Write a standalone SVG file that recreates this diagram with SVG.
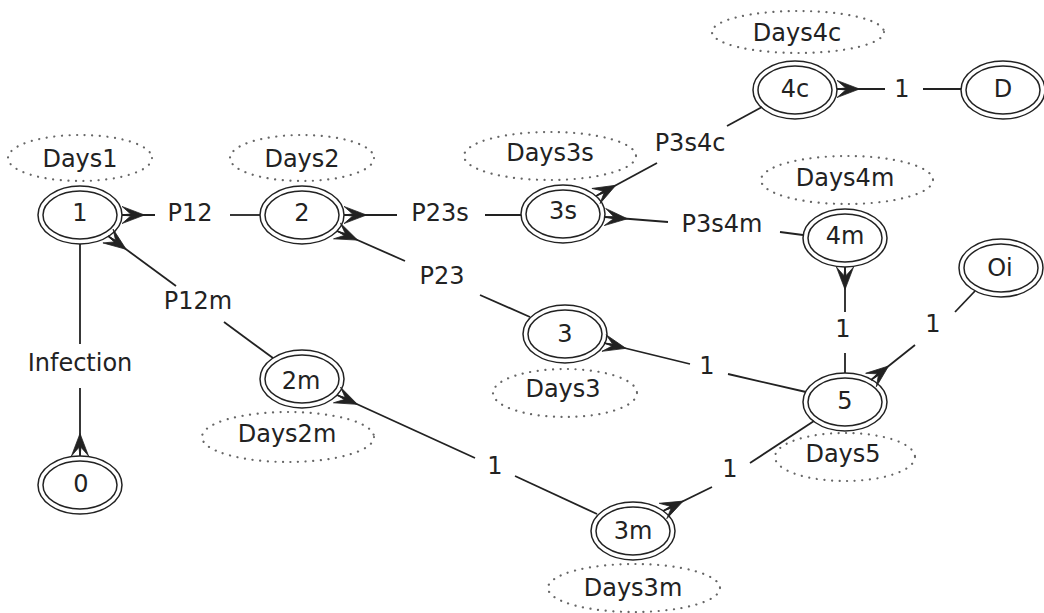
<svg xmlns="http://www.w3.org/2000/svg" width="1044" height="613" viewBox="0 0 1044 613">
<style>
.bg{fill:#fff}
.o{fill:none;stroke:#222;stroke-width:1.5}
.d{fill:none;stroke:#666;stroke-width:2.2;stroke-dasharray:0.1 7.5;stroke-linecap:round}
.t{font-family:"DejaVu Sans","Liberation Sans",sans-serif;font-size:24px;fill:#222;text-anchor:middle}
.e{fill:none;stroke:#222;stroke-width:1.8}
</style>
<defs>
<marker id="crow" markerUnits="userSpaceOnUse" markerWidth="30" markerHeight="30" viewBox="-26 -12 28 24" refX="0" refY="0" orient="auto">
<polygon points="-21,0 0,-8 -8,-1 0,0 -8,1 0,8" fill="#222" stroke="#222" stroke-width="0.7" stroke-linejoin="round"/>
</marker>
</defs>
<rect class="bg" x="0" y="0" width="1044" height="613"/>
<g id="connectors">
<path class="e" d="M155,215 L122,215" marker-end="url(#crow)"/>
<path class="e" d="M230,215 L260,215"/>
<path class="e" d="M176,286 L108,236" marker-end="url(#crow)"/>
<path class="e" d="M224,322 L273,358"/>
<path class="e" d="M80,244 L80,344"/>
<path class="e" d="M80,388 L80,456" marker-end="url(#crow)"/>
<path class="e" d="M397,215 L344,215" marker-end="url(#crow)"/>
<path class="e" d="M485,215 L521,215"/>
<path class="e" d="M405,261 L337,231" marker-end="url(#crow)"/>
<path class="e" d="M480,295 L530,317"/>
<path class="e" d="M657,163 L596,196" marker-end="url(#crow)"/>
<path class="e" d="M727,126 L762,107"/>
<path class="e" d="M668,222 L605,217" marker-end="url(#crow)"/>
<path class="e" d="M780,232 L803,235"/>
<path class="e" d="M885,89 L837,89" marker-end="url(#crow)"/>
<path class="e" d="M923,89 L961,89"/>
<path class="e" d="M845,312 L845,267" marker-end="url(#crow)"/>
<path class="e" d="M845,353 L845,373"/>
<path class="e" d="M915,345 L871,380" marker-end="url(#crow)"/>
<path class="e" d="M955,312 L975,291"/>
<path class="e" d="M690,364 L604,343" marker-end="url(#crow)"/>
<path class="e" d="M728,374 L806,392"/>
<path class="e" d="M475,458 L337,395" marker-end="url(#crow)"/>
<path class="e" d="M515,476 L597,514"/>
<path class="e" d="M712,487 L663,511" marker-end="url(#crow)"/>
<path class="e" d="M750,463 L814,421"/>
<text class="t" x="190" y="220.5">P12</text>
<text class="t" x="198" y="308.5">P12m</text>
<text class="t" x="80" y="370.5">Infection</text>
<text class="t" x="440" y="220.5">P23s</text>
<text class="t" x="442" y="283.5">P23</text>
<text class="t" x="690" y="150.5">P3s4c</text>
<text class="t" x="722" y="231.5">P3s4m</text>
<text class="t" x="902" y="96.5">1</text>
<text class="t" x="843" y="336.5">1</text>
<text class="t" x="933" y="331.5">1</text>
<text class="t" x="707" y="373.5">1</text>
<text class="t" x="495" y="473.5">1</text>
<text class="t" x="730" y="476.5">1</text>
</g>
<g id="days1"><ellipse class="d" cx="80" cy="158" rx="72" ry="23"/><text class="t" x="80" y="166.5">Days1</text></g>
<g id="days2"><ellipse class="d" cx="302" cy="158" rx="72" ry="23"/><text class="t" x="302" y="166.5">Days2</text></g>
<g id="days3s"><ellipse class="d" cx="550" cy="156" rx="86" ry="24"/><text class="t" x="550" y="160.5">Days3s</text></g>
<g id="days4c"><ellipse class="d" cx="798" cy="32" rx="86" ry="21"/><text class="t" x="797" y="40.5">Days4c</text></g>
<g id="days4m"><ellipse class="d" cx="847" cy="180" rx="86" ry="24"/><text class="t" x="845" y="185.5">Days4m</text></g>
<g id="days3"><ellipse class="d" cx="565" cy="393" rx="72" ry="24"/><text class="t" x="563" y="396.5">Days3</text></g>
<g id="days5"><ellipse class="d" cx="845" cy="457" rx="70" ry="24"/><text class="t" x="843" y="461.5">Days5</text></g>
<g id="days2m"><ellipse class="d" cx="288" cy="437" rx="86" ry="25"/><text class="t" x="287" y="441.5">Days2m</text></g>
<g id="days3m"><ellipse class="d" cx="634" cy="588" rx="86" ry="24"/><text class="t" x="633" y="595.5">Days3m</text></g>
<g id="n1"><ellipse class="o" cx="80" cy="215" rx="42" ry="29"/><ellipse class="o" cx="80" cy="215" rx="37" ry="24"/><text class="t" x="80" y="220.5">1</text></g>
<g id="n2"><ellipse class="o" cx="302" cy="215" rx="42" ry="29"/><ellipse class="o" cx="302" cy="215" rx="37" ry="24"/><text class="t" x="302" y="220.5">2</text></g>
<g id="n3s"><ellipse class="o" cx="563" cy="214" rx="42" ry="29"/><ellipse class="o" cx="563" cy="214" rx="37" ry="24"/><text class="t" x="563" y="218.5">3s</text></g>
<g id="n4c"><ellipse class="o" cx="795" cy="90" rx="42" ry="29"/><ellipse class="o" cx="795" cy="90" rx="37" ry="24"/><text class="t" x="795" y="96.5">4c</text></g>
<g id="nD"><ellipse class="o" cx="1003" cy="90" rx="42" ry="29"/><ellipse class="o" cx="1003" cy="90" rx="37" ry="24"/><text class="t" x="1003" y="96.5">D</text></g>
<g id="n4m"><ellipse class="o" cx="845" cy="238" rx="42" ry="29"/><ellipse class="o" cx="845" cy="238" rx="37" ry="24"/><text class="t" x="845" y="243.5">4m</text></g>
<g id="nOi"><ellipse class="o" cx="1001" cy="268" rx="42" ry="29"/><ellipse class="o" cx="1001" cy="268" rx="37" ry="24"/><text class="t" x="1000" y="275.5">Oi</text></g>
<g id="n5"><ellipse class="o" cx="845" cy="402" rx="42" ry="29"/><ellipse class="o" cx="845" cy="402" rx="37" ry="24"/><text class="t" x="845" y="408.5">5</text></g>
<g id="n3"><ellipse class="o" cx="565" cy="334" rx="42" ry="29"/><ellipse class="o" cx="565" cy="334" rx="37" ry="24"/><text class="t" x="565" y="341.5">3</text></g>
<g id="n2m"><ellipse class="o" cx="302" cy="379" rx="42" ry="29"/><ellipse class="o" cx="302" cy="379" rx="37" ry="24"/><text class="t" x="301" y="388.5">2m</text></g>
<g id="n3m"><ellipse class="o" cx="633" cy="531" rx="42" ry="29"/><ellipse class="o" cx="633" cy="531" rx="37" ry="24"/><text class="t" x="633" y="538.5">3m</text></g>
<g id="n0"><ellipse class="o" cx="80" cy="485" rx="42" ry="29"/><ellipse class="o" cx="80" cy="485" rx="37" ry="24"/><text class="t" x="81" y="491.5">0</text></g>
</svg>
